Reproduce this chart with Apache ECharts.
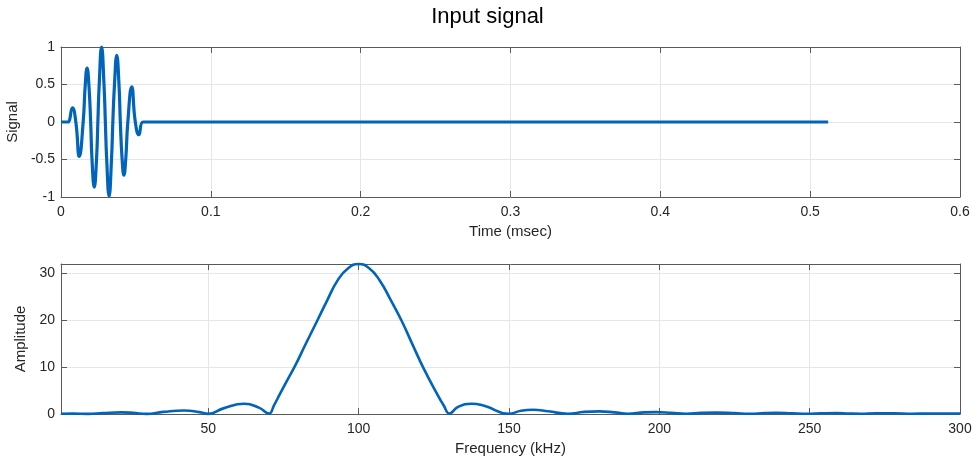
<!DOCTYPE html>
<html>
<head>
<meta charset="utf-8">
<script src="https://cdn.jsdelivr.net/npm/echarts@6/dist/echarts.min.js"></script>
<style>
html,body{margin:0;padding:0;background:#fff;}
#chart{width:975px;height:466px;}
</style>
</head>
<body>
<div id="chart"></div>
<script>
// ---- Data ----
const titleText = 'Input signal';

// Top panel: time (msec) and signal value (peaks, zero crossings and ±0.5 grid-line crossings)
const timeMs = [0, 0.002, 0.0045, 0.0076, 0.0099, 0.0122, 0.0148, 0.0162, 0.0174, 0.0186, 0.0198, 0.0207, 0.0222, 0.0237, 0.0246, 0.0255, 0.0271, 0.0287, 0.0296, 0.0305, 0.0321, 0.0337, 0.0346, 0.0357, 0.0372, 0.0387, 0.0396, 0.0408, 0.0420, 0.0432, 0.0446, 0.0472, 0.0496, 0.0520, 0.0548, 0.060, 0.2, 0.4, 0.512];
const signal = [0, 0, 0, 0.19, 0, -0.46, 0, 0.5, 0.72, 0.5, 0, -0.5, -0.87, -0.5, 0, 0.5, 1.0, 0.5, 0, -0.5, -0.99, -0.5, 0, 0.5, 0.89, 0.5, 0, -0.5, -0.71, -0.5, 0, 0.47, 0, -0.17, 0, 0, 0, 0, 0];

// Bottom panel: frequency (kHz) and amplitude
const freqKHz = [1, 5, 10, 15, 21, 25, 29.5, 35, 42, 47, 50, 55, 62, 67, 70.2, 71.8, 74, 76.5, 78.8, 82.5, 86.3, 89.5, 93, 96.5, 100, 103.5, 107, 110.5, 114.2, 118, 121.4, 125.8, 128.3, 130.2, 133, 137.5, 142, 150, 154, 158, 163, 169.6, 175, 180, 185, 189.6, 195, 199, 204, 209, 214, 219, 225, 230, 235, 239, 244, 249, 254, 259, 263, 267, 272, 278, 284, 290, 295, 300];
const amplitude = [0.05, 0.08, 0.02, 0.2, 0.35, 0.25, 0.02, 0.45, 0.75, 0.4, 0.03, 1.2, 2.2, 1.3, 0.1, 1.8, 4.5, 7.5, 10.2, 15.1, 20, 24.2, 28.5, 31.1, 32, 31.1, 28.5, 24.5, 20, 14.7, 10, 4.6, 1.8, 0.1, 1.5, 2.2, 1.7, 0.05, 0.7, 0.9, 0.6, 0.05, 0.45, 0.55, 0.35, 0.05, 0.35, 0.4, 0.25, 0.05, 0.25, 0.3, 0.2, 0.05, 0.2, 0.25, 0.15, 0.05, 0.15, 0.2, 0.1, 0.05, 0.15, 0.15, 0.05, 0.1, 0.1, 0.1];

// Tick labels
const timeTicks = [0, 0.1, 0.2, 0.3, 0.4, 0.5, 0.6];
const signalTicks = [-1, -0.5, 0, 0.5, 1];
const freqTicks = [50, 100, 150, 200, 250, 300];
const ampTicks = [0, 10, 20, 30];

const lineColor = '#0064bb';
const boxColor = '#5a5a5a';
const gridColor = '#e6e6e6';
const textColor = '#262626';
const fontFamily = 'Liberation Sans, Arial, Helvetica, sans-serif';

function pairs(xs, ys) { return xs.map((x, i) => [x, ys[i]]); }

function boxAxis(gridIndex, position, extra) {
  return Object.assign({
    type: 'value',
    gridIndex: gridIndex,
    position: position,
    axisLine: { show: true, onZero: false, lineStyle: { color: boxColor, width: 1 } },
    axisTick: { show: true, inside: true, length: 6, lineStyle: { color: boxColor } },
    axisLabel: { show: false },
    splitLine: { show: false }
  }, extra);
}

const chart = echarts.init(document.getElementById('chart'), null, { renderer: 'canvas' });

const option = {
  backgroundColor: '#ffffff',
  animation: false,
  title: {
    text: titleText,
    left: 'center',
    top: 1,
    textStyle: { fontFamily: fontFamily, fontSize: 22, fontWeight: 'normal', color: '#000' }
  },
  grid: [
    { left: 61, top: 47, width: 899, height: 150, containLabel: false, outerBoundsMode: 'none' },
    { left: 61, top: 264, width: 899, height: 150, containLabel: false, outerBoundsMode: 'none' }
  ],
  xAxis: [
    boxAxis(0, 'bottom', {
      min: 0, max: 0.6, interval: 0.1,
      name: 'Time (msec)', nameLocation: 'middle', nameGap: 27,
      nameTextStyle: { fontFamily: fontFamily, fontSize: 15, color: textColor },
      axisLabel: { show: true, margin: 8, fontFamily: fontFamily, fontSize: 14, color: textColor,
        customValues: timeTicks },
      axisTick: { show: true, inside: true, length: 6, lineStyle: { color: boxColor }, customValues: timeTicks },
      splitLine: { show: true, lineStyle: { color: gridColor, width: 1 } }
    }),
    boxAxis(0, 'top', { min: 0, max: 0.6, interval: 0.1,
      axisTick: { show: true, inside: true, length: 6, lineStyle: { color: boxColor }, customValues: timeTicks } }),
    boxAxis(1, 'bottom', {
      min: 1, max: 300,
      name: 'Frequency (kHz)', nameLocation: 'middle', nameGap: 27,
      nameTextStyle: { fontFamily: fontFamily, fontSize: 15, color: textColor },
      axisLabel: { show: true, margin: 8, fontFamily: fontFamily, fontSize: 14, color: textColor,
        customValues: freqTicks },
      axisTick: { show: true, inside: true, length: 6, lineStyle: { color: boxColor }, customValues: freqTicks },
      splitLine: { show: true, lineStyle: { color: gridColor, width: 1 } }
    }),
    boxAxis(1, 'top', { min: 1, max: 300,
      axisTick: { show: true, inside: true, length: 6, lineStyle: { color: boxColor }, customValues: freqTicks } })
  ],
  yAxis: [
    boxAxis(0, 'left', {
      min: -1, max: 1, interval: 0.5,
      name: 'Signal', nameLocation: 'middle', nameGap: 35,
      nameTextStyle: { fontFamily: fontFamily, fontSize: 15, color: textColor },
      axisLabel: { show: true, margin: 6, fontFamily: fontFamily, fontSize: 14, color: textColor,
        customValues: signalTicks },
      axisTick: { show: true, inside: true, length: 6, lineStyle: { color: boxColor }, customValues: signalTicks },
      splitLine: { show: true, lineStyle: { color: gridColor, width: 1 } }
    }),
    boxAxis(0, 'right', { min: -1, max: 1, interval: 0.5,
      axisTick: { show: true, inside: true, length: 6, lineStyle: { color: boxColor }, customValues: signalTicks } }),
    boxAxis(1, 'left', {
      min: 0, max: 32,
      name: 'Amplitude', nameLocation: 'middle', nameGap: 25,
      nameTextStyle: { fontFamily: fontFamily, fontSize: 15, color: textColor },
      axisLabel: { show: true, margin: 6, fontFamily: fontFamily, fontSize: 14, color: textColor,
        customValues: ampTicks },
      axisTick: { show: true, inside: true, length: 6, lineStyle: { color: boxColor }, customValues: ampTicks },
      splitLine: { show: true, lineStyle: { color: gridColor, width: 1 } }
    }),
    boxAxis(1, 'right', { min: 0, max: 32,
      axisTick: { show: true, inside: true, length: 6, lineStyle: { color: boxColor }, customValues: ampTicks } })
  ],
  series: [
    {
      type: 'line', xAxisIndex: 0, yAxisIndex: 0,
      data: pairs(timeMs, signal),
      smooth: 0.5, showSymbol: false, symbol: 'none',
      lineStyle: { color: lineColor, width: 3.2 }, clip: false, z: 5
    },
    {
      type: 'line', xAxisIndex: 2, yAxisIndex: 2,
      data: pairs(freqKHz, amplitude),
      smooth: 0.5, showSymbol: false, symbol: 'none',
      lineStyle: { color: lineColor, width: 2.6 }, clip: false, z: 5
    }
  ]
};
chart.setOption(option);
</script>
</body>
</html>
